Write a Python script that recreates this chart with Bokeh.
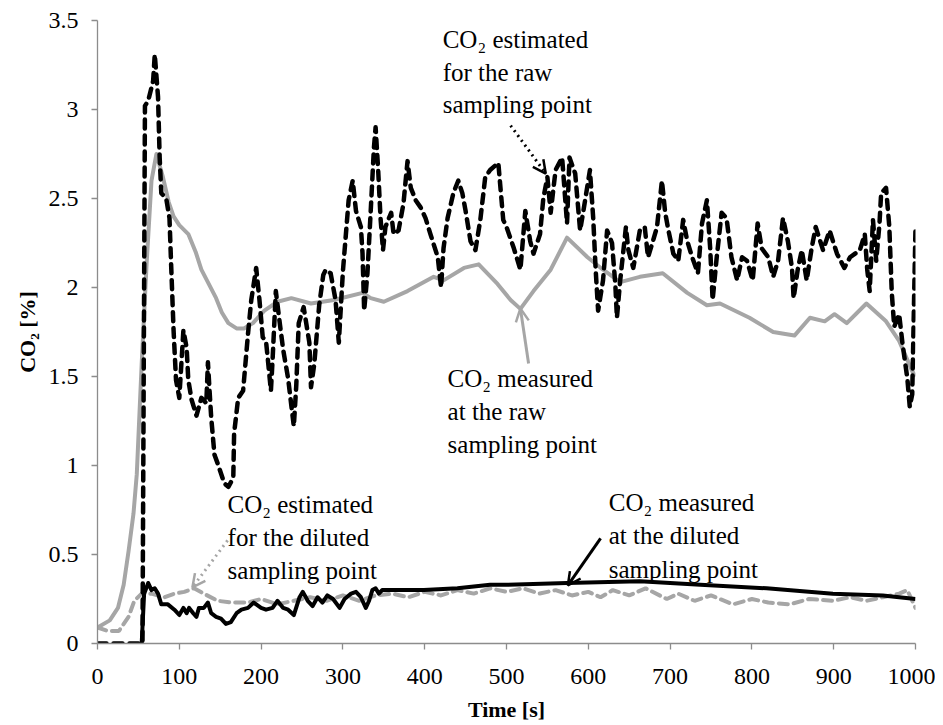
from bokeh.plotting import figure
from bokeh.models import Range1d, FixedTicker, Arrow, OpenHead
from bokeh.core.properties import value
from bokeh.embed import file_html
from bokeh.resources import INLINE

# ---------------- data ----------------
# CO2 measured at the raw sampling point (grey solid)
meas_raw_t = [0, 15, 25, 32, 38, 44, 48, 54, 60, 66, 72, 80, 87, 93, 100, 111, 120, 127, 136, 145,
              152, 160, 170, 179, 190, 204, 220, 237, 261, 289, 324, 334, 350, 379, 411, 423, 448,
              466, 489, 505, 517, 533, 554, 574, 599, 618, 639, 663, 691, 721, 745, 761, 797, 826,
              852, 871, 889, 901, 916, 940, 964, 980, 996, 1000]
meas_raw_v = [0.09, 0.13, 0.2, 0.33, 0.52, 0.73, 0.95, 1.57, 2.13, 2.6, 2.75, 2.62, 2.48, 2.40,
              2.35, 2.30, 2.20, 2.10, 2.02, 1.94, 1.86, 1.80, 1.77, 1.77, 1.80, 1.87, 1.92, 1.94,
              1.91, 1.93, 1.97, 1.94, 1.92, 1.98, 2.06, 2.04, 2.11, 2.13, 2.02, 1.93, 1.88, 1.98,
              2.10, 2.28, 2.17, 2.10, 2.03, 2.06, 2.08, 1.97, 1.90, 1.91, 1.83, 1.75, 1.73, 1.83,
              1.81, 1.85, 1.80, 1.91, 1.81, 1.70, 1.53, 1.50]

# CO2 estimated for the raw sampling point (black dashed)
est_raw_t = [0, 50, 55, 58, 62, 68, 70, 74, 76, 78, 84, 88, 90, 93, 96, 100, 105, 109, 111, 115,
             121, 127, 133, 135, 137, 139, 143, 147, 155, 160, 166, 167, 172, 178, 184, 188, 194,
             198, 202, 206, 212, 214, 218, 222, 227, 233, 240, 243, 246, 252, 259, 261, 265, 271,
             276, 279, 285, 291, 295, 300, 307, 312, 316, 322, 324, 326, 330, 334, 338, 340, 343,
             346, 349, 352, 359, 362, 368, 374, 379, 383, 389, 395, 401, 407, 416, 420, 423, 428,
             435, 441, 446, 450, 456, 462, 468, 474, 480, 490, 496, 500, 509, 517, 523, 529, 533,
             541, 545, 550, 554, 560, 568, 574, 577, 584, 590, 594, 602, 606, 609, 612, 618, 623,
             629, 633, 635, 639, 646, 649, 655, 663, 669, 673, 679, 684, 690, 694, 698, 704, 710,
             716, 721, 727, 734, 739, 745, 749, 752, 757, 763, 769, 775, 782, 788, 794, 801, 807,
             812, 820, 826, 832, 838, 844, 849, 851, 856, 861, 867, 873, 878, 887, 895, 904, 913,
             920, 932, 938, 941, 944, 948, 952, 956, 958, 964, 968, 971, 974, 980, 984, 990, 993,
             996, 1000]
est_raw_v = [0.0, 0.0, 0.0, 3.02, 3.05, 3.16, 3.31, 3.07, 2.73, 2.53, 2.50, 2.39, 2.13, 1.76, 1.48,
             1.38, 1.76, 1.66, 1.48, 1.37, 1.28, 1.38, 1.35, 1.58, 1.42, 1.27, 1.06, 1.01, 0.90,
             0.88, 0.93, 1.18, 1.38, 1.42, 1.74, 1.93, 2.11, 1.93, 1.72, 1.70, 1.42, 1.59, 1.98,
             1.83, 1.65, 1.49, 1.22, 1.45, 1.80, 1.89, 1.69, 1.44, 1.57, 1.90, 2.07, 2.10, 2.08,
             1.93, 1.69, 2.09, 2.49, 2.60, 2.43, 2.34, 2.19, 1.87, 2.08, 2.43, 2.79, 2.90, 2.67,
             2.39, 2.21, 2.34, 2.42, 2.30, 2.32, 2.47, 2.71, 2.56, 2.49, 2.45, 2.39, 2.30, 2.17,
             2.00, 2.22, 2.39, 2.53, 2.60, 2.53, 2.43, 2.26, 2.21, 2.38, 2.62, 2.66, 2.70, 2.38,
             2.34, 2.22, 2.10, 2.43, 2.26, 2.19, 2.30, 2.50, 2.62, 2.42, 2.66, 2.73, 2.36, 2.73,
             2.64, 2.32, 2.43, 2.66, 2.39, 2.10, 1.87, 2.04, 2.32, 2.25, 2.02, 1.83, 2.04, 2.34,
             2.21, 2.11, 2.32, 2.34, 2.17, 2.26, 2.34, 2.60, 2.42, 2.32, 2.19, 2.15, 2.38, 2.26,
             2.17, 2.08, 2.36, 2.49, 2.22, 1.93, 2.17, 2.42, 2.39, 2.17, 2.04, 2.17, 2.15, 2.04,
             2.36, 2.22, 2.17, 2.06, 2.15, 2.39, 2.26, 2.11, 1.94, 2.10, 2.21, 2.04, 2.22, 2.34,
             2.21, 2.32, 2.19, 2.11, 2.17, 2.21, 2.30, 2.10, 1.98, 2.38, 2.15, 2.36, 2.53, 2.56,
             2.34, 1.97, 1.78, 1.85, 1.69, 1.49, 1.33, 1.40, 2.34]

# CO2 measured at the diluted sampling point (black solid)
meas_dil_t = [54, 57, 62, 66, 70, 74, 78, 86, 94, 100, 105, 109, 112, 117, 121, 124, 130, 135,
              139, 145, 151, 157, 163, 170, 176, 184, 191, 200, 206, 214, 220, 227, 233, 240, 247,
              251, 257, 263, 269, 275, 281, 288, 296, 302, 310, 316, 322, 328, 332, 336, 340, 344,
              348, 359, 399, 440, 480, 501, 574, 663, 737, 818, 899, 960, 1000]
meas_dil_v = [0.0, 0.28, 0.34, 0.30, 0.31, 0.28, 0.22, 0.22, 0.19, 0.16, 0.20, 0.17, 0.20,
              0.17, 0.15, 0.20, 0.20, 0.23, 0.17, 0.15, 0.14, 0.11, 0.12, 0.17, 0.19, 0.20, 0.23,
              0.20, 0.19, 0.20, 0.24, 0.20, 0.19, 0.16, 0.26, 0.29, 0.24, 0.21, 0.26, 0.23, 0.27,
              0.25, 0.20, 0.25, 0.28, 0.29, 0.26, 0.20, 0.24, 0.30, 0.31, 0.28, 0.30, 0.30, 0.30,
              0.31, 0.33, 0.33, 0.34, 0.35, 0.33, 0.31, 0.28, 0.27, 0.25]

# CO2 estimated for the diluted sampling point (grey dashed)
est_dil_t = [0, 13, 26, 38, 45, 54, 66, 82, 94, 106, 118, 130, 147, 163, 184, 200, 220, 240, 260,
             280, 300, 320, 340, 360, 380, 400, 420, 440, 460, 480, 500, 520, 540, 560, 580, 600,
             615, 630, 650, 670, 696, 710, 730, 750, 777, 800, 820, 846, 870, 899, 920, 940, 960,
             980, 990, 1000]
est_dil_v = [0.09, 0.07, 0.07, 0.15, 0.24, 0.28, 0.28, 0.26, 0.28, 0.29, 0.31, 0.28, 0.24, 0.23,
             0.23, 0.25, 0.22, 0.24, 0.26, 0.24, 0.27, 0.24, 0.27, 0.28, 0.26, 0.29, 0.27, 0.30,
             0.28, 0.31, 0.29, 0.31, 0.28, 0.30, 0.27, 0.29, 0.26, 0.30, 0.27, 0.31, 0.25, 0.28,
             0.24, 0.27, 0.22, 0.25, 0.23, 0.22, 0.25, 0.24, 0.26, 0.24, 0.26, 0.28, 0.30, 0.20]

x_ticks = [0, 100, 200, 300, 400, 500, 600, 700, 800, 900, 1000]
y_ticks = [0, 0.5, 1, 1.5, 2, 2.5, 3, 3.5]
y_tick_labels = ["0", "0.5", "1", "1.5", "2", "2.5", "3", "3.5"]

# annotations: left x, baselines y, lines
ann_texts = [
    ["CO\u2082 estimated", "for the raw", "sampling point"],
    ["CO\u2082 measured", "at the raw", "sampling point"],
    ["CO\u2082 estimated", "for the diluted", "sampling point"],
    ["CO\u2082 measured", "at the diluted", "sampling point"],
]
ann_x = [422, 428, 159, 625]
ann_y = [[3.348, 3.163, 2.983], [1.444, 1.258, 1.073], [0.736, 0.551, 0.365], [0.747, 0.562, 0.371]]
arrow_start = [(505, 2.91), (527, 1.573), (159, 0.579), (615, 0.590)]
arrow_end = [(548, 2.64), (517, 1.882), (116, 0.315), (575, 0.326)]

GREY = "#a6a6a6"
SERIF = "Liberation Serif"

# ---------------- figure ----------------
p = figure(width=935, height=725, output_backend="svg", toolbar_location=None,
           x_range=Range1d(0, 1000), y_range=Range1d(0, 3.5),
           min_border_left=97, min_border_right=20, min_border_top=20, min_border_bottom=82)
p.outline_line_color = None
p.background_fill_color = "white"
p.border_fill_color = "white"
p.xgrid.visible = False
p.ygrid.visible = False

p.line(meas_raw_t, meas_raw_v, line_color=GREY, line_width=4, line_join="round")
p.line(est_dil_t, est_dil_v, line_color=GREY, line_width=4, line_dash="9 6", line_cap="round")
p.line(est_raw_t, est_raw_v, line_color="black", line_width=4.5, line_dash="9 7", line_cap="round",
       line_join="round")
p.line(meas_dil_t, meas_dil_v, line_color="black", line_width=4, line_join="round")

for ax in (p.xaxis[0], p.yaxis[0]):
    ax.axis_line_color = "#8c8c8c"
    ax.major_tick_line_color = "#8c8c8c"
    ax.axis_line_width = 1.3
    ax.major_tick_line_width = 1.3
    ax.major_tick_in = 0
    ax.major_tick_out = 6
    ax.minor_tick_line_color = None
    ax.major_label_text_font = SERIF
    ax.major_label_text_font_size = "24px"
    ax.major_label_text_color = "black"
    ax.axis_label_text_font = SERIF
    ax.axis_label_text_font_size = "22px"
    ax.axis_label_text_font_style = "bold"
    ax.axis_label_text_color = "black"

p.xaxis.ticker = FixedTicker(ticks=x_ticks)
p.yaxis.ticker = FixedTicker(ticks=y_ticks)
p.yaxis.major_label_overrides = {t: l for t, l in zip(y_ticks, y_tick_labels)}
p.xaxis.axis_label = "Time [s]"
p.yaxis.axis_label = "CO\u2082 [%]"
p.xaxis.major_label_standoff = 19
p.yaxis.major_label_standoff = 13
p.xaxis.axis_label_standoff = 10
p.yaxis.axis_label_standoff = 6

xs, ys, ts = [], [], []
for x0, yl, tl in zip(ann_x, ann_y, ann_texts):
    for yy, tt in zip(yl, tl):
        xs.append(x0)
        ys.append(yy)
        ts.append(tt)
p.text(x=xs, y=ys, text=ts, text_font=value(SERIF), text_font_size="25px",
       text_baseline="alphabetic", text_align="left", text_color="black", y_offset=-8)

arrow_styles = [
    dict(line_color="black", line_width=3, line_dash="dotted"),
    dict(line_color=GREY, line_width=3, line_dash="solid"),
    dict(line_color=GREY, line_width=3, line_dash="dotted"),
    dict(line_color="black", line_width=3, line_dash="solid"),
]
for (sx, sy), (ex, ey), st in zip(arrow_start, arrow_end, arrow_styles):
    head = OpenHead(size=13, line_color=st["line_color"], line_width=2.5)
    p.add_layout(Arrow(end=head, x_start=sx, y_start=sy, x_end=ex, y_end=ey, **st))

open("out.html", "w").write(file_html(p, INLINE))
